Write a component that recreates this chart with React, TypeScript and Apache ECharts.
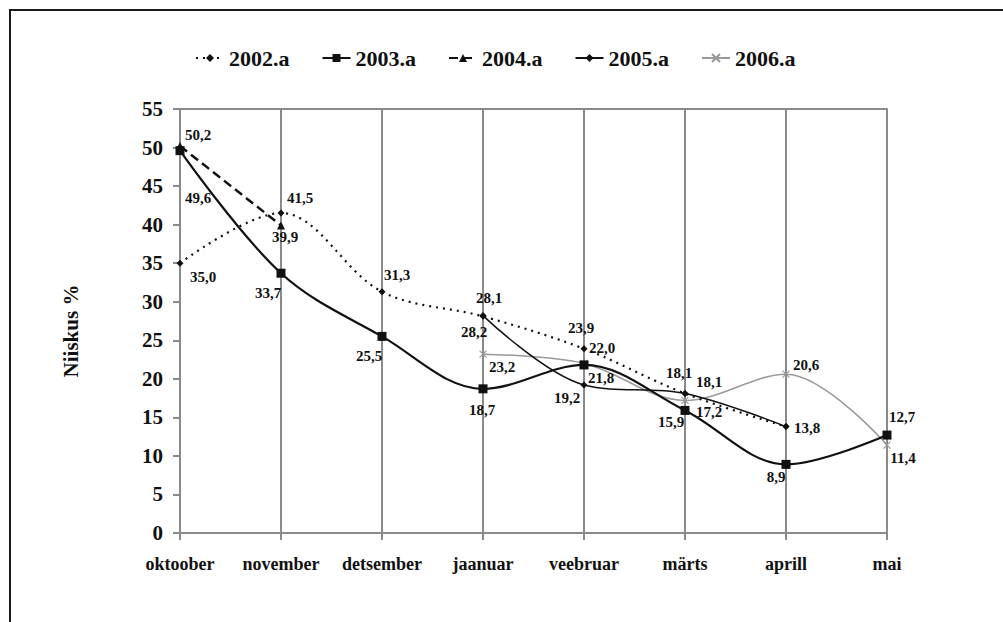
import React, { useEffect, useRef } from "react";
import * as echarts from "echarts";

const months = ["oktoober", "november", "detsember", "jaanuar", "veebruar", "märts", "aprill", "mai"];
const seriesNames = ["2002.a", "2003.a", "2004.a", "2005.a", "2006.a"];

const s2002 = [35.0, 41.5, 31.3, 28.1, 23.9, 18.1, 13.8, null];
const s2003 = [49.6, 33.7, 25.5, 18.7, 21.8, 15.9, 8.9, 12.7];
const s2004 = [50.2, 39.9, null, null, null, null, null, null];
const s2005 = [null, null, null, 28.2, 19.2, 18.1, 13.8, null];
const s2006 = [null, null, null, 23.2, 22.0, 17.2, 20.6, 11.4];

const yMin = 0;
const yMax = 55;
const yStep = 5;

// label offsets (label centre relative to point)
const off2002 = [[23, 14], [19, -15], [15, -17], [6, -18], [-3, -21], [-6, -20], null, null];
const off2003 = [[18, 47], [-13, 20], [-13, 20], [-1, 21], [17, 13], [-14, 12], [-10, 13], [15, -18]];
const off2004 = [[18, -11], [4, 12], null, null, null, null, null, null];
const off2005 = [null, null, null, [-9, 16], [-17, 13], [24, -11], [21, 1], null];
const off2006 = [null, null, null, [19, 13], [18, -15], [24, 12], [20, -9], [16, 13]];

const FONT = '"Liberation Serif", "Times New Roman", serif';

function build(values: (number | null)[], offs: (number[] | null)[]) {
  return values.map((v, i) => {
    if (v === null) return null;
    const o = offs[i];
    return {
      value: v,
      label: o
        ? { show: true, position: "inside", offset: o, align: "center", verticalAlign: "middle" }
        : { show: false },
    };
  });
}

const fmt = (p: any) => {
  const v = Array.isArray(p.value) ? p.value[1] : p.value;
  return Number(v).toFixed(1).replace(".", ",");
};

export default function App() {
  const ref = useRef<HTMLDivElement>(null);
  useEffect(() => {
    if (!ref.current) return;
    const chart = echarts.init(ref.current, undefined, { renderer: "svg" });
    const labelBase = {
      show: true,
      formatter: fmt,
      fontFamily: FONT,
      fontWeight: "bold",
      fontSize: 15,
      color: "#111",
    };
    const crossPath = "path://M0,0L10,10M10,0L0,10";
    chart.setOption({
      animation: false,
      backgroundColor: "#fff",
      graphic: [
        {
          type: "rect",
          shape: { x: 10, y: 10, width: 1010, height: 700 },
          style: { fill: "none", stroke: "#1a1a1a", lineWidth: 2 },
          silent: true,
          z: 100,
        },
      ],
      legend: {
        data: seriesNames,
        left: 190,
        top: 42,
        itemWidth: 28,
        itemHeight: 10,
        itemGap: 32,
        textStyle: { fontFamily: FONT, fontWeight: "bold", fontSize: 22, color: "#111" },
      },
      grid: { left: 180, right: 116, top: 109, bottom: 89, containLabel: false },
      xAxis: [
        {
          type: "category",
          data: months,
          boundaryGap: false,
          axisLine: { show: true, lineStyle: { color: "#8a8a8a", width: 2 } },
          axisTick: { show: true, length: 7, lineStyle: { color: "#8a8a8a", width: 2 } },
          axisLabel: {
            margin: 22,
            fontFamily: FONT,
            fontWeight: "bold",
            fontSize: 18,
            color: "#111",
            interval: 0,
          },
          splitLine: { show: true, lineStyle: { color: "#8a8a8a", width: 2 } },
        },
        {
          type: "category",
          data: months,
          boundaryGap: false,
          position: "top",
          axisLine: { show: true, lineStyle: { color: "#8a8a8a", width: 2 } },
          axisTick: { show: false },
          axisLabel: { show: false },
          splitLine: { show: false },
        },
      ],
      yAxis: {
        type: "value",
        min: yMin,
        max: yMax,
        interval: yStep,
        name: "Niiskus %",
        nameLocation: "middle",
        nameGap: 99,
        nameTextStyle: { fontFamily: FONT, fontWeight: "bold", fontSize: 21, color: "#111", padding: [0, 20, 0, 0] },
        axisLine: { show: true, lineStyle: { color: "#8a8a8a", width: 2 } },
        axisTick: { show: true, length: 7, lineStyle: { color: "#8a8a8a", width: 2 } },
        axisLabel: { margin: 17, fontFamily: FONT, fontWeight: "bold", fontSize: 21, color: "#111" },
        splitLine: { show: false },
      },
      series: [
        {
          name: "2002.a",
          type: "line",
          smooth: 0.35,
          data: build(s2002, off2002),
          symbol: "diamond",
          symbolSize: 7,
          itemStyle: { color: "#111" },
          lineStyle: { color: "#111", width: 2.2, type: [2, 5] },
          label: labelBase,
          z: 3,
        },
        {
          name: "2003.a",
          type: "line",
          smooth: 0.35,
          data: build(s2003, off2003),
          symbol: "rect",
          symbolSize: 9,
          itemStyle: { color: "#111" },
          lineStyle: { color: "#111", width: 2.2 },
          label: labelBase,
          z: 4,
        },
        {
          name: "2004.a",
          type: "line",
          smooth: false,
          data: build(s2004, off2004),
          symbol: "triangle",
          symbolSize: 8,
          itemStyle: { color: "#111" },
          lineStyle: { color: "#111", width: 2.5, type: [9, 5] },
          label: labelBase,
          z: 3,
        },
        {
          name: "2005.a",
          type: "line",
          smooth: 0.35,
          data: build(s2005, off2005),
          symbol: "diamond",
          symbolSize: 7,
          itemStyle: { color: "#111" },
          lineStyle: { color: "#111", width: 1.5 },
          label: labelBase,
          z: 3,
        },
        {
          name: "2006.a",
          type: "line",
          smooth: 0.35,
          data: build(s2006, off2006),
          symbol: crossPath,
          symbolSize: 7,
          itemStyle: { color: "#999", borderColor: "#999", borderWidth: 1.2 },
          lineStyle: { color: "#999", width: 1.5 },
          label: labelBase,
          z: 2,
        },
      ],
    });
    return () => chart.dispose();
  }, []);
  return (
    <div
      ref={ref}
      style={{ position: "fixed", left: 0, top: 0, width: 1003, height: 622, background: "#fff" }}
    />
  );
}
